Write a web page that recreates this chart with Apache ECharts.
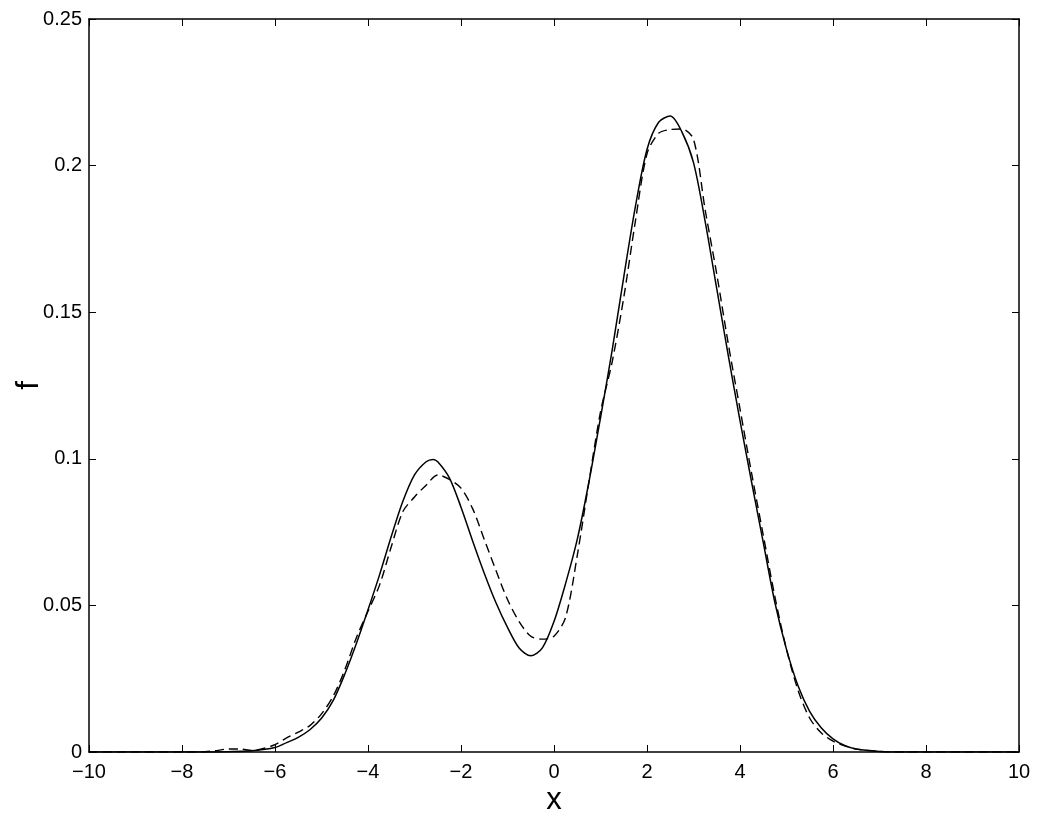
<!DOCTYPE html>
<html>
<head>
<meta charset="utf-8">
<script src="https://cdn.jsdelivr.net/npm/echarts@6/dist/echarts.min.js"></script>
<style>
html,body{margin:0;padding:0;background:#fff;}
#chart{width:1037px;height:821px;}
</style>
</head>
<body>
<div id="chart"></div>
<script>
// x positions and values of the solid curve
var xSolid = [-10, -8, -7.5, -7, -6.5, -6, -5.75, -5.5, -5.25, -5, -4.75, -4.5, -4.25, -4, -3.75, -3.5, -3.25, -3, -2.75, -2.6, -2.5, -2.25, -2, -1.75, -1.5, -1.25, -1, -0.75, -0.5, -0.25, 0, 0.25, 0.5, 0.75, 1, 1.25, 1.5, 1.75, 2, 2.25, 2.5, 2.75, 3, 3.25, 3.5, 3.75, 4, 4.25, 4.5, 4.75, 5, 5.25, 5.5, 5.75, 6, 6.25, 6.5, 7, 7.5, 8, 10];
var fSolid = [0, 0, 0, 0.0001, 0.0004, 0.0015, 0.0032, 0.0050, 0.0076, 0.0115, 0.0175, 0.0265, 0.037, 0.0485, 0.0605, 0.0735, 0.0855, 0.0945, 0.0990, 0.0998, 0.0990, 0.0935, 0.0835, 0.072, 0.061, 0.051, 0.0425, 0.0355, 0.0328, 0.0355, 0.0445, 0.0575, 0.0725, 0.092, 0.114, 0.137, 0.162, 0.186, 0.2055, 0.2148, 0.2169, 0.2115, 0.201, 0.181, 0.158, 0.135, 0.113, 0.092, 0.0715, 0.051, 0.035, 0.0225, 0.0138, 0.0082, 0.0045, 0.0022, 0.001, 0.0002, 0, 0, 0];
// x positions and values of the dashed curve
var xDashed = [-10, -7.6, -7.3, -7, -6.75, -6.5, -6.25, -6, -5.75, -5.5, -5.25, -5, -4.75, -4.5, -4.25, -4, -3.75, -3.5, -3.25, -3, -2.75, -2.5, -2.25, -2, -1.75, -1.5, -1.25, -1, -0.75, -0.5, -0.25, 0, 0.25, 0.5, 0.75, 1, 1.25, 1.5, 1.75, 2, 2.25, 2.5, 2.75, 3, 3.25, 3.5, 3.75, 4, 4.25, 4.5, 4.75, 5, 5.25, 5.5, 5.75, 6, 6.25, 6.5, 7, 7.5, 10];
var fDashed = [0, 0, 0.0004, 0.0010, 0.0010, 0.0005, 0.0012, 0.0025, 0.0048, 0.0068, 0.009, 0.013, 0.019, 0.028, 0.039, 0.048, 0.057, 0.070, 0.082, 0.087, 0.091, 0.0945, 0.0930, 0.090, 0.083, 0.0725, 0.062, 0.052, 0.0445, 0.0395, 0.0385, 0.0395, 0.046, 0.067, 0.092, 0.116, 0.133, 0.155, 0.181, 0.204, 0.211, 0.2123, 0.2125, 0.209, 0.185, 0.163, 0.139, 0.117, 0.095, 0.074, 0.053, 0.035, 0.021, 0.0115, 0.0065, 0.0037, 0.0021, 0.001, 0.0002, 0, 0];
// axis settings
var xMin = -10, xMax = 10, xStep = 2;
var yMin = 0, yMax = 0.25, yStep = 0.05;
var xName = 'x', yName = 'f';

function pairs(xs, ys) { return xs.map(function (x, i) { return [x, ys[i]]; }); }

var font = '"Liberation Sans", Arial, Helvetica, sans-serif';
var axisLine = { show: true, onZero: false, lineStyle: { color: '#000', width: 1.5 } };
var axisTick = { show: true, inside: true, length: 7, lineStyle: { color: '#000', width: 1 } };

var chart = echarts.init(document.getElementById('chart'), null, { renderer: 'canvas' });
chart.setOption({
  animation: false,
  backgroundColor: '#fff',
  grid: { left: 89, right: 18, top: 19, bottom: 69, containLabel: false, outerBoundsMode: 'none' },
  xAxis: [
    { type: 'value', min: xMin, max: xMax, interval: xStep, position: 'bottom',
      name: xName, nameLocation: 'middle', nameGap: 33, nameMoveOverlap: false,
      nameTextStyle: { fontFamily: font, fontSize: 31, color: '#000' },
      axisLine: axisLine, axisTick: axisTick, splitLine: { show: false },
      axisLabel: { margin: 10, fontFamily: font, fontSize: 20, color: '#000',
        formatter: function (v) { return String(v).replace('-', '\u2212'); } } },
    { type: 'value', min: xMin, max: xMax, interval: xStep, position: 'top',
      axisLine: axisLine, axisTick: axisTick, splitLine: { show: false }, axisLabel: { show: false } }
  ],
  yAxis: [
    { type: 'value', min: yMin, max: yMax, interval: yStep, position: 'left',
      name: yName, nameLocation: 'middle', nameGap: 44, nameRotate: 90, nameMoveOverlap: false,
      nameTextStyle: { fontFamily: font, fontSize: 31, color: '#000' },
      axisLine: axisLine, axisTick: axisTick, splitLine: { show: false },
      axisLabel: { margin: 7, fontFamily: font, fontSize: 20, color: '#000' } },
    { type: 'value', min: yMin, max: yMax, interval: yStep, position: 'right',
      axisLine: axisLine, axisTick: axisTick, splitLine: { show: false }, axisLabel: { show: false } }
  ],
  series: [
    { type: 'line', name: 'solid', data: pairs(xSolid, fSolid), showSymbol: false, smooth: 0.3,
      lineStyle: { color: '#000', width: 1.5, type: 'solid' }, z: 3 },
    { type: 'line', name: 'dashed', data: pairs(xDashed, fDashed), showSymbol: false, smooth: 0.3,
      lineStyle: { color: '#000', width: 1.4, type: [9, 5] }, z: 2 }
  ]
});
</script>
</body>
</html>
